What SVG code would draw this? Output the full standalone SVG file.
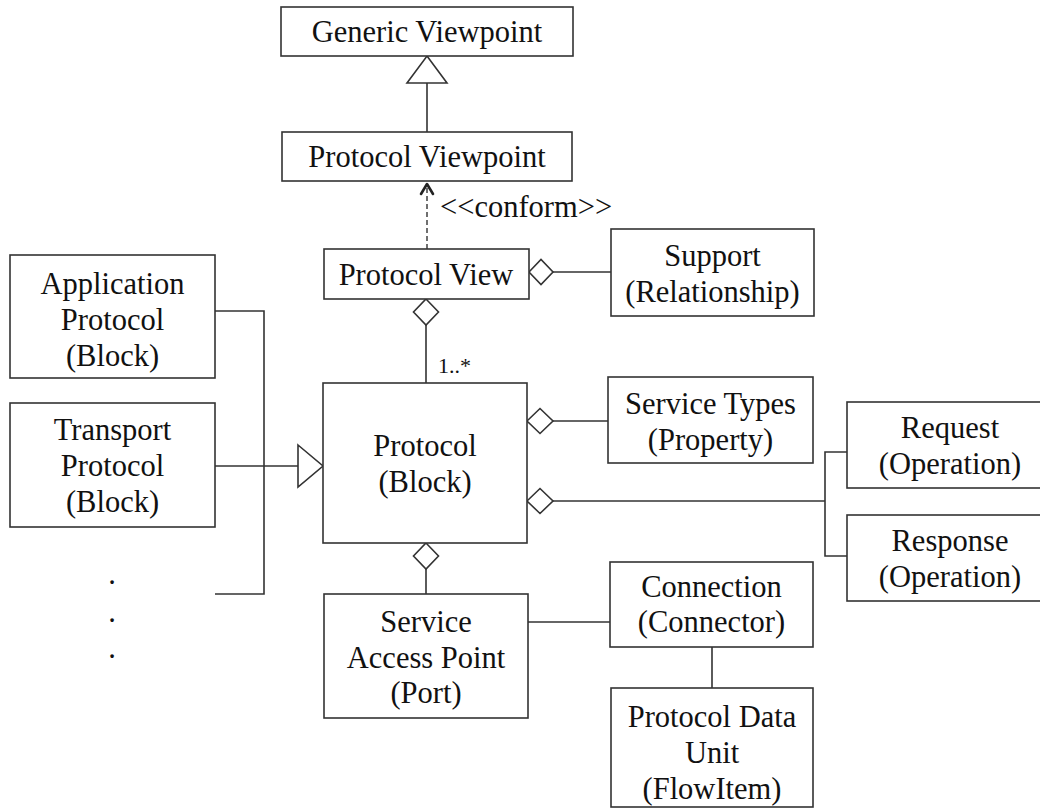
<svg xmlns="http://www.w3.org/2000/svg" width="1040" height="811" viewBox="0 0 1040 811">
<style>
.box{fill:#fff;stroke:#333;stroke-width:1.6}
.ln{fill:none;stroke:#333;stroke-width:1.6}
.dash{fill:none;stroke:#333;stroke-width:1.4;stroke-dasharray:5,3}
.head{fill:none;stroke:#222;stroke-width:2.6;stroke-linecap:round;stroke-linejoin:round}
.dia{fill:#fff;stroke:#333;stroke-width:1.6}
text{font-family:"Liberation Serif","Times New Roman",serif;font-size:30.5px;fill:#111;text-anchor:middle}
.small{font-size:22px;text-anchor:start}
.lbl{text-anchor:start}
</style>
<rect width="1040" height="811" fill="#fff"/>
<g id="connectors">
<line class="ln" x1="427" y1="83" x2="427" y2="132"/>
<polygon class="dia" points="427,56 447,83 407,83"/>
<line class="dash" x1="427" y1="249" x2="427" y2="186"/>
<polyline class="head" points="421,194 427,184 433,194"/>
<text class="lbl" x="440" y="217">&lt;&lt;conform&gt;&gt;</text>
<line class="ln" x1="553" y1="272" x2="611" y2="272"/>
<polygon class="dia" points="529,272 541,259.5 553,272 541,284.5"/>
<line class="ln" x1="426" y1="325" x2="426" y2="383"/>
<polygon class="dia" points="426,299 438.5,312 426,325 413.5,312"/>
<text class="small" x="438" y="373">1..*</text>
<polyline class="ln" points="215,311 264,311 264,594 215,594"/>
<line class="ln" x1="215" y1="466" x2="298" y2="466"/>
<polygon class="dia" points="298,445 323,466 298,487"/>
<line class="ln" x1="553" y1="421" x2="608" y2="421"/>
<polygon class="dia" points="527,421 540,408.5 553,421 540,433.5"/>
<line class="ln" x1="553" y1="501" x2="825" y2="501"/>
<polygon class="dia" points="527,501 540,488.5 553,501 540,513.5"/>
<polyline class="ln" points="847,452 825,452 825,556 847,556"/>
<line class="ln" x1="426" y1="569" x2="426" y2="594"/>
<polygon class="dia" points="426,543 438.5,556 426,569 413.5,556"/>
<line class="ln" x1="528" y1="622" x2="610" y2="622"/>
<line class="ln" x1="712" y1="647" x2="712" y2="688"/>
</g>
<g id="generic-viewpoint">
<rect class="box" x="281" y="7" width="292" height="49"/>
<text x="427" y="42">Generic Viewpoint</text>
</g>
<g id="protocol-viewpoint">
<rect class="box" x="282" y="132" width="290" height="49"/>
<text x="427" y="167">Protocol Viewpoint</text>
</g>
<g id="protocol-view">
<rect class="box" x="324" y="249" width="205" height="50"/>
<text x="426" y="285">Protocol View</text>
</g>
<g id="support">
<rect class="box" x="611" y="229" width="203" height="87"/>
<text x="712.5" y="266">Support</text>
<text x="712.5" y="302">(Relationship)</text>
</g>
<g id="application-protocol">
<rect class="box" x="10" y="255" width="205" height="123"/>
<text x="112.5" y="294">Application</text>
<text x="112.5" y="330">Protocol</text>
<text x="112.5" y="366">(Block)</text>
</g>
<g id="transport-protocol">
<rect class="box" x="10" y="403" width="205" height="124"/>
<text x="112.5" y="440">Transport</text>
<text x="112.5" y="476">Protocol</text>
<text x="112.5" y="512">(Block)</text>
</g>
<g id="ellipsis">
<text x="112" y="584">.</text>
<text x="112" y="622">.</text>
<text x="112" y="658">.</text>
</g>
<g id="protocol-block">
<rect class="box" x="323" y="383" width="204" height="160"/>
<text x="425" y="456">Protocol</text>
<text x="425" y="492">(Block)</text>
</g>
<g id="service-types">
<rect class="box" x="608" y="377" width="205" height="86"/>
<text x="710.5" y="414">Service Types</text>
<text x="710.5" y="450">(Property)</text>
</g>
<g id="request">
<rect class="box" x="847" y="402" width="210" height="86"/>
<text x="950" y="438">Request</text>
<text x="950" y="474">(Operation)</text>
</g>
<g id="response">
<rect class="box" x="847" y="515" width="210" height="86"/>
<text x="950" y="551">Response</text>
<text x="950" y="587">(Operation)</text>
</g>
<g id="service-access-point">
<rect class="box" x="324" y="594" width="204" height="124"/>
<text x="426" y="632">Service</text>
<text x="426" y="668">Access Point</text>
<text x="426" y="703">(Port)</text>
</g>
<g id="connection">
<rect class="box" x="610" y="562" width="203" height="85"/>
<text x="711.5" y="597">Connection</text>
<text x="711.5" y="632">(Connector)</text>
</g>
<g id="protocol-data-unit">
<rect class="box" x="611" y="688" width="202" height="119"/>
<text x="712" y="727">Protocol Data</text>
<text x="712" y="763">Unit</text>
<text x="712" y="799">(FlowItem)</text>
</g>
</svg>
